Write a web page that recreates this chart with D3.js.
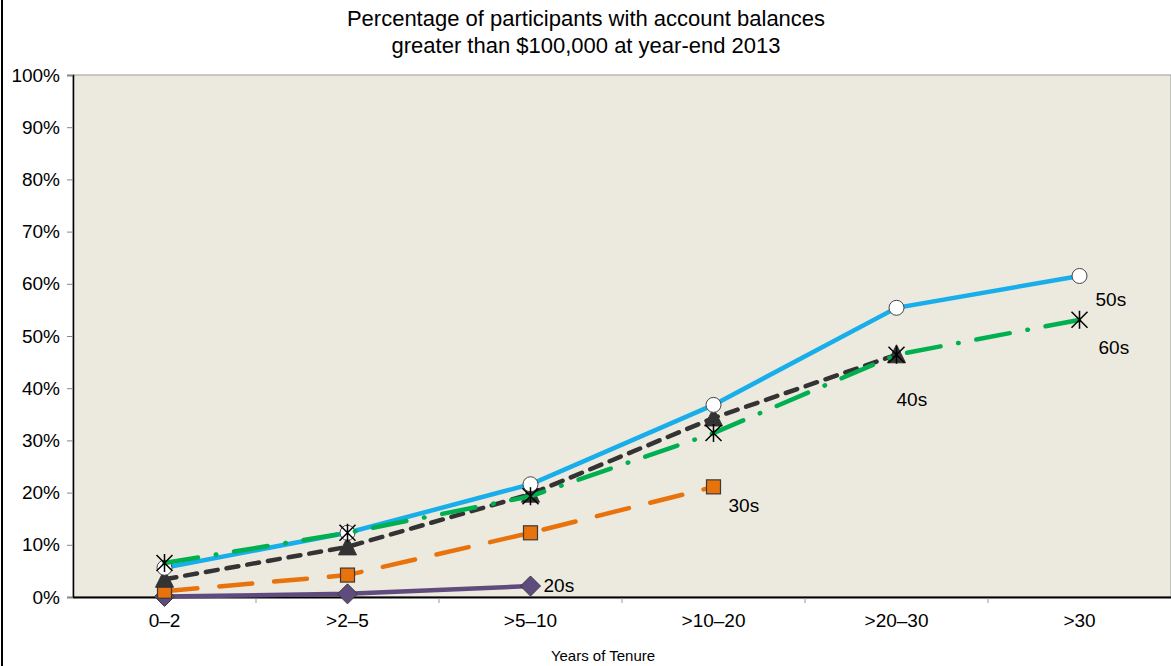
<!DOCTYPE html>
<html><head><meta charset="utf-8">
<script src="https://cdn.jsdelivr.net/npm/d3@7"></script>
<style>body{margin:0;background:#fff;}svg{display:block;font-family:"Liberation Sans",Arial,sans-serif;}</style>
</head><body>
<svg id="c" width="1171" height="666"></svg>
<script>
const categories = ["0–2", ">2–5", ">5–10", ">10–20", ">20–30", ">30"];
const yTicks = [0,10,20,30,40,50,60,70,80,90,100];
const s20 = [0.1, 0.6, 2.1];
const s30 = [1.1, 4.2, 12.3, 21.1];
const s40 = [3.4, 9.6, 19.7, 34.3, 46.4];
const s50 = [5.6, 12.3, 21.6, 36.8, 55.4, 61.5];
const s60 = [6.5, 12.3, 19.3, 31.4, 46.4, 53.1];
const titleLines = ["Percentage of participants with account balances", "greater than $100,000 at year-end 2013"];

const svg = d3.select("#c");
const L = 73, R = 1171, T = 75, B = 597;
const x = d3.scaleBand().domain(categories).range([L, R]).padding(0);
const y = d3.scaleLinear().domain([0, 100]).range([B, T]);
const cx = c => x(c) + x.bandwidth()/2;

// frame left line
svg.append("line").attr("x1",2).attr("x2",2).attr("y1",0).attr("y2",666).attr("stroke","#000").attr("stroke-width",2);

// plot background
svg.append("rect").attr("x",L).attr("y",T).attr("width",R-L).attr("height",B-T).attr("fill","#ECE9DF").attr("stroke","#999").attr("stroke-width",1);

// title
svg.append("g").selectAll("text").data(titleLines).join("text")
  .attr("x",586).attr("y",(d,i)=>26+i*27).attr("text-anchor","middle").attr("font-size",22).attr("fill","#000").text(d=>d);

// y axis
const yAxis = d3.axisLeft(y).tickValues(yTicks).tickFormat(d=>d+"%").tickSize(6).tickPadding(7);
const gy = svg.append("g").attr("transform",`translate(${L},0)`).call(yAxis);
gy.attr("font-size",19).attr("font-family","Liberation Sans, Arial, sans-serif");
gy.select(".domain").attr("stroke","#000").attr("stroke-width",1.5);
gy.selectAll(".tick line").attr("stroke","#888");
gy.selectAll(".tick text").attr("fill","#000");

// x axis
const xAxis = d3.axisBottom(x).tickSize(0).tickPadding(17);
const gx = svg.append("g").attr("transform",`translate(0,${B})`).call(xAxis);
gx.attr("font-size",19).attr("font-family","Liberation Sans, Arial, sans-serif");
gx.select(".domain").attr("stroke","#000").attr("stroke-width",2);
gx.selectAll(".tick text").attr("fill","#000");
// boundary ticks
svg.append("g").selectAll("line").data(categories.slice(1)).join("line")
  .attr("x1",d=>x(d)).attr("x2",d=>x(d)).attr("y1",B+1).attr("y2",B+6).attr("stroke","#999").attr("stroke-width",1);

svg.append("text").attr("x",603).attr("y",661).attr("text-anchor","middle").attr("font-size",15).attr("fill","#000").text("Years of Tenure");

const line = d3.line().x((d,i)=>cx(categories[i])).y(d=>y(d));
const series = [
  {name:"20s", data:s20, color:"#5F4B7E", dash:null, marker:"diamond"},
  {name:"30s", data:s30, color:"#E8720C", dash:"33,22", marker:"square"},
  {name:"40s", data:s40, color:"#333333", dash:"12,9", marker:"triangle"},
  {name:"50s", data:s50, color:"#17AEEA", dash:null, marker:"circle"},
  {name:"60s", data:s60, color:"#00B050", dash:"34,18,0.5,18", marker:"star"}
];
const plot = svg.append("g");
series.forEach(s=>{
  const g = plot.append("g");
  g.append("path").datum(s.data).attr("d",line).attr("fill","none").attr("stroke",s.color)
    .attr("stroke-width",4.5).attr("stroke-dasharray",s.dash).attr("stroke-linecap", s.dash?"round":"butt");
  const pts = g.selectAll("g.m").data(s.data).join("g").attr("transform",(d,i)=>`translate(${cx(categories[i])},${y(d)})`);
  if (s.marker==="diamond") pts.append("path").attr("d","M0,-10L10,0L0,10L-10,0Z").attr("fill",s.color).attr("stroke","#3a3a3a").attr("stroke-width",1);
  if (s.marker==="square") pts.append("rect").attr("x",-7).attr("y",-7).attr("width",14).attr("height",14).attr("fill",s.color).attr("stroke","#3a3a3a").attr("stroke-width",1.2);
  if (s.marker==="triangle") pts.append("path").attr("d","M0,-10L9,8L-9,8Z").attr("fill",s.color).attr("stroke",s.color).attr("stroke-width",1);
  if (s.marker==="circle") pts.append("circle").attr("r",7.5).attr("fill","#fff").attr("stroke","#444").attr("stroke-width",1);
  if (s.marker==="star") pts.append("path").attr("d","M0,-9V9M-8,-8L8,8M8,-8L-8,8").attr("fill","none").attr("stroke","#000").attr("stroke-width",1.5);
});

// series labels
const labels = [
  {t:"50s", c:">30", v:s50[5], dx:16, dy:30},
  {t:"60s", c:">30", v:s60[5], dx:19, dy:34},
  {t:"40s", c:">20–30", v:s40[4], dx:0, dy:51},
  {t:"30s", c:">10–20", v:s30[3], dx:15, dy:25},
  {t:"20s", c:">5–10", v:s20[2], dx:13, dy:6}
];
svg.append("g").selectAll("text").data(labels).join("text")
  .attr("x",d=>cx(d.c)+d.dx).attr("y",d=>y(d.v)+d.dy).attr("font-size",19).attr("fill","#000").text(d=>d.t);
</script>
</body></html>
